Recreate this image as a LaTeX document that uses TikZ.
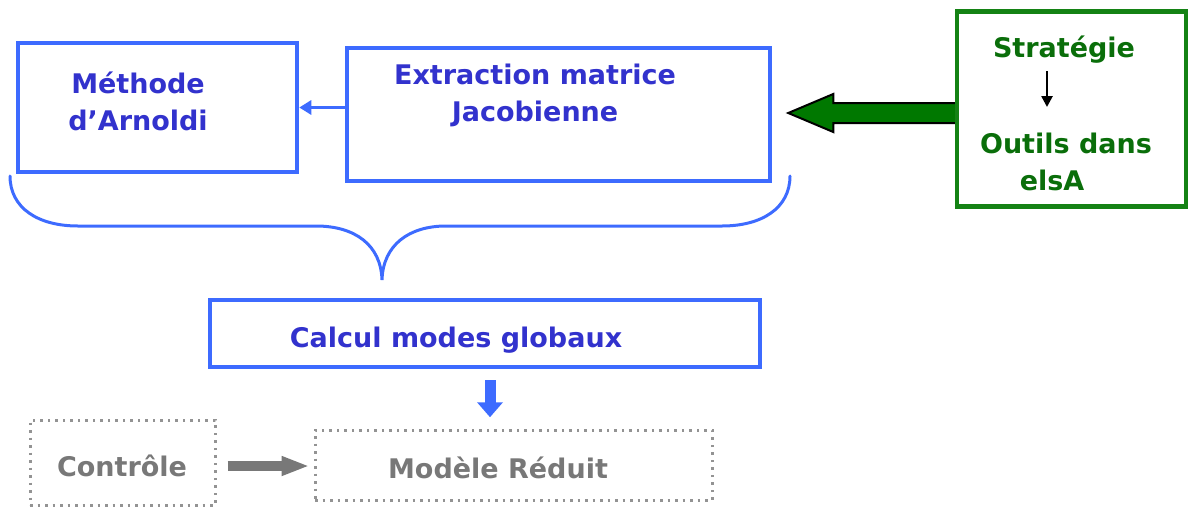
\documentclass[tikz,border=0pt]{standalone}
\usepackage{fontspec}
\setmainfont{DejaVu Sans}
\usepackage{tikz}
\usetikzlibrary{arrows.meta}
\usetikzlibrary{calc,positioning}

\definecolor{boxblue}{RGB}{61,107,255}
\definecolor{txtblue}{RGB}{50,50,205}
\definecolor{boxgreen}{RGB}{20,130,20}
\definecolor{txtgreen}{RGB}{10,110,10}
\definecolor{fatgreen}{RGB}{0,120,0}
\definecolor{dimgrey}{RGB}{120,120,120}

\begin{document}
\begin{tikzpicture}[x=1pt,y=-1pt,
			bluebox/.style={draw=boxblue,line width=4.5pt,inner sep=0pt},
			greenbox/.style={draw=boxgreen,line width=4.5pt,inner sep=0pt},
			dotbox/.style={draw=dimgrey!80,line width=3pt,dash pattern=on 2.5pt off 5pt,inner sep=0pt},
			bluetxt/.style={text=txtblue,align=center,font=\bfseries\fontsize{27}{37}\selectfont},
			greentxt/.style={text=txtgreen,align=center,font=\bfseries\fontsize{27}{37}\selectfont},
			greytxt/.style={text=dimgrey,align=center,font=\bfseries\fontsize{27}{37}\selectfont}]
			\useasboundingbox (0,0) rectangle (1190,509);
			
			% boxes
			\node[bluebox,minimum width=279pt,minimum height=129pt] (arnoldi) at (157.5,107.5) {};
			\node[bluebox,minimum width=423pt,minimum height=133pt] (extr) at (558.5,114.5) {};
			\node[greenbox,minimum width=229pt,minimum height=195pt] (elsa) at (1071.5,109) {};
			\node[bluebox,minimum width=550pt,minimum height=67pt] (calc) at (485,333.5) {};
			\node[dotbox,minimum width=185pt,minimum height=85pt] (ctrl) at (122.5,462.5) {};
			\node[dotbox,minimum width=397pt,minimum height=70pt] (modele) at (513.5,465) {};
			
			% texts
			\node[bluetxt] (arnolditxt) at (138,101) {Méthode\\d’Arnoldi};
			\node[bluetxt] (extrtxt) at (535,95) {Extraction matrice\\Jacobienne};
			\node[greentxt] (strat) at (1064,50) {Stratégie};
			\node[greentxt] (outils) at (1066,143) {Outils dans};
			\node[greentxt] (elsatxt) at (1052,180) {elsA};
			\node[bluetxt] (calctxt) at (456,340) {Calcul modes globaux};
			\node[greytxt] (ctrltxt) at (122,466) {Contrôle};
			\node[greytxt] (modeletxt) at (498,468) {Modèle Réduit};
			
			% arrows
			\draw[boxblue,line width=3pt,-{Triangle[length=12pt,width=14pt]}] (extr.west |- arnoldi.east) -- (arnoldi.east);
			\draw[black,line width=2.5pt,-{Triangle[length=11pt,width=11pt]}] ([xshift=-17pt,yshift=-4pt]strat.south) -- ([xshift=-19pt,yshift=22pt]outils.north);
			\coordinate (tip) at ($(extr.east |- elsa.west)+(16,4)$);
			\draw[fill=fatgreen,draw=black,line width=2pt,line join=miter]
				($(elsa.west)+(0,-6)$) -- ($(tip)+(45,-10)$) -- ($(tip)+(45,-19)$)
				-- (tip) -- ($(tip)+(45,19)$) -- ($(tip)+(45,10)$)
				-- ($(elsa.west)+(0,14)$);
			\draw[boxblue,line width=11pt,-{Triangle[length=15pt,width=25pt]}] ([xshift=5pt,yshift=-11pt]calc.south) -- ([xshift=5pt,yshift=-48pt]calc.south);
			\draw[dimgrey,line width=10pt,shorten <=11pt,shorten >=4pt,-{Triangle[length=28pt,width=18pt]}] (ctrl.east |- ctrltxt) -- (modele.west |- ctrltxt);
			
			% brace
			\draw[boxblue,line width=3pt,line cap=round]
				(10,176) .. controls (10,208) and (38,226) .. (78,226) -- (316,226)
				.. controls (355,226) and (381,245) .. (382,280)
				.. controls (383,245) and (409,226) .. (446,226) -- (722,226)
				.. controls (762,226) and (790,208) .. (790,176);
		\end{tikzpicture}
\end{document}
